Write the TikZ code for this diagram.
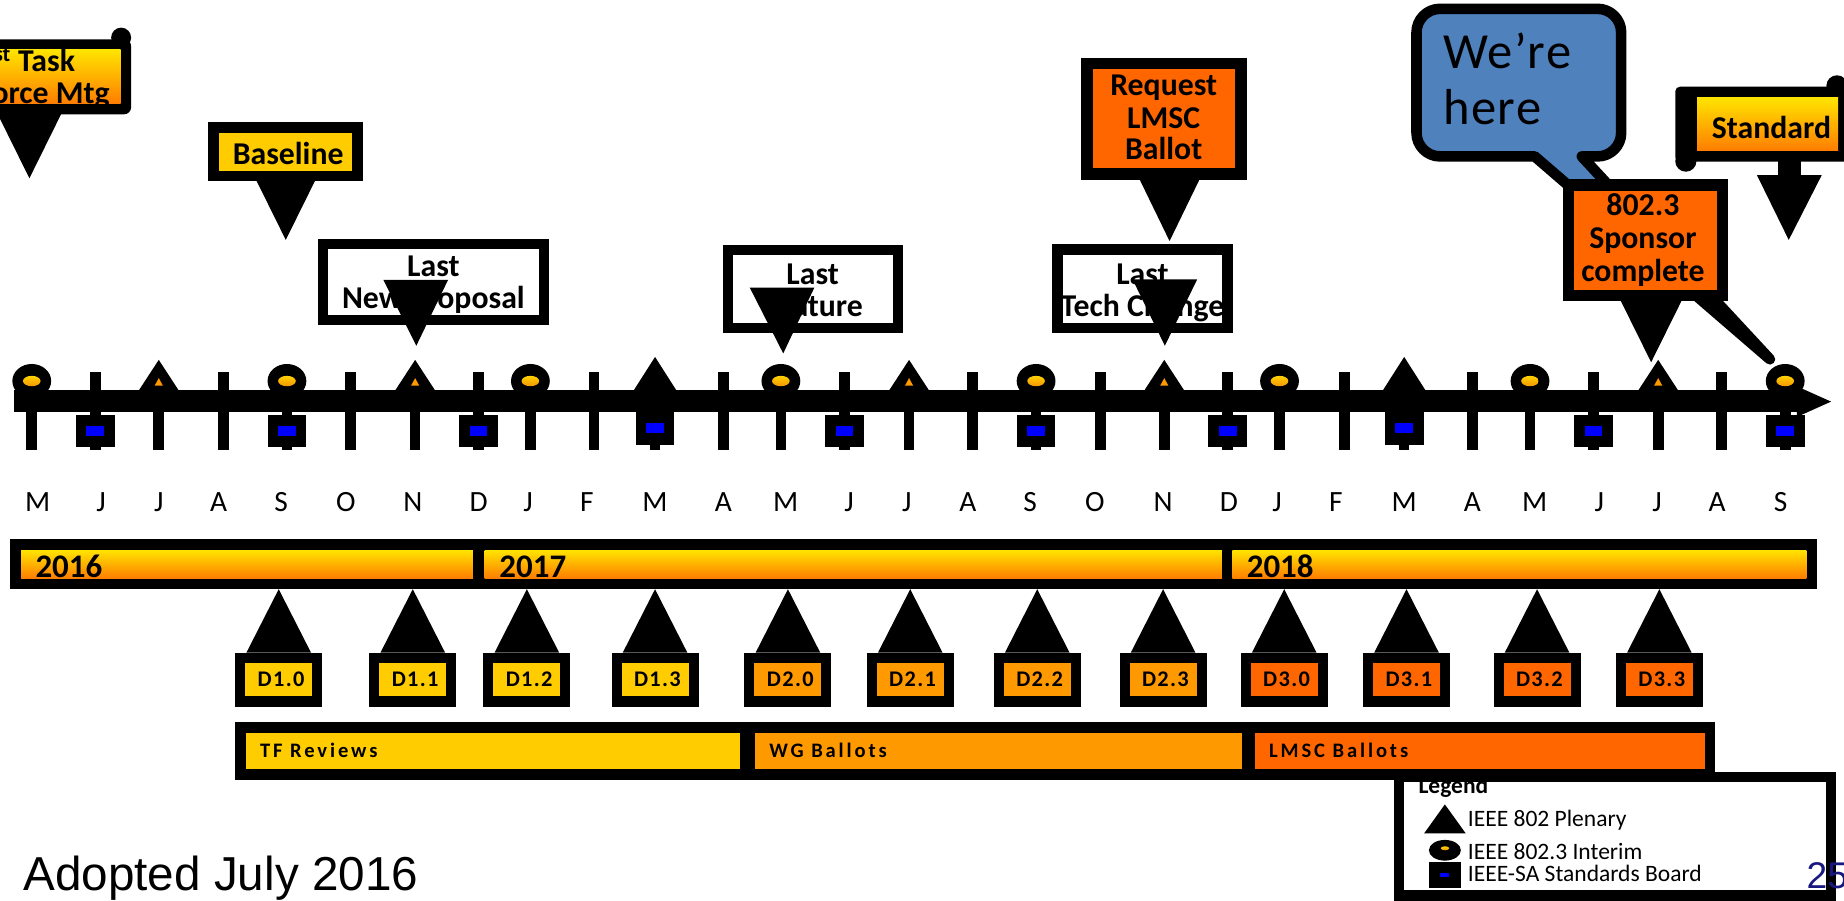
\documentclass[tikz,border=0pt]{standalone}
\usepackage{fontspec}
\setmainfont{Carlito}
\newfontfamily\arialf{Liberation Sans}
\newfontfamily\spacedf[LetterSpace=14]{Carlito}
\newfontfamily\draftf[LetterSpace=6]{Carlito}
\newfontfamily\bubblef[LetterSpace=3]{Carlito}
\definecolor{yel}{HTML}{FFCC00}
\definecolor{org}{HTML}{FF9900}
\definecolor{dorg}{HTML}{FF6600}
\definecolor{bub}{HTML}{4F81BD}
\definecolor{gtop}{RGB}{255,228,0}
\definecolor{gbot}{RGB}{255,125,0}
\definecolor{itop}{RGB}{255,210,0}
\definecolor{ibot}{RGB}{245,150,0}
\definecolor{navy}{RGB}{24,24,128}
\definecolor{sqblue}{RGB}{0,0,255}
\tikzset{
  cw/.style={font=\bfseries\fontsize{27}{29}\selectfont, inner sep=0pt, anchor=base},
  mon/.style={font=\fontsize{25}{27}\selectfont, inner sep=0pt, anchor=base},
  yr/.style={font=\bfseries\fontsize{28}{30}\selectfont, inner sep=0pt, anchor=base west},
  dl/.style={font=\draftf\bfseries\fontsize{19}{20}\selectfont, inner sep=0pt, anchor=base},
  ph/.style={font=\spacedf\bfseries\fontsize{17.5}{19}\selectfont, inner sep=0pt, anchor=base west},
  lg/.style={font=\fontsize{20}{22}\selectfont, inner sep=0pt, anchor=base west},
  grad/.style={top color=gtop, bottom color=gbot},
  igrad/.style={top color=itop, bottom color=ibot},
}
\begin{document}
\begin{tikzpicture}[x=1pt,y=-1pt]
\useasboundingbox (0,0) rectangle (1568,766);
\clip (0,0) rectangle (1568,766);
\fill[white] (0,0) rectangle (1568,766);

% ---------- timeline axis ----------
\fill (12,332) rectangle (1532,350.5);
\fill (1528,328.5) -- (1557,341.5) -- (1528,354.5) -- cycle;
\foreach \x in {27,81,135,190,244,298,353,407,451,505,557,615,664,718,773,827,881,936,990,1044,1088,1143,1194,1252,1301,1355,1410,1464,1518}
  \fill (\x-4.5,316) rectangle (\x+4.5,383);
% interim meetings
\foreach \x in {27,244,451,664,881,1088,1301,1518}{
  \fill (\x,324) ellipse [x radius=16.5pt, y radius=14.5pt];
  \shade[igrad] (\x,324) ellipse [x radius=7.5pt, y radius=4.4pt];
}
% plenary (small)
\foreach \x in {135,353,773,990,1410}{
  \fill (\x-17.3,332.5) -- (\x,306) -- (\x+17.3,332.5) -- cycle;
  \fill[org] (\x-3.5,328) -- (\x,321.5) -- (\x+3.5,328) -- cycle;
}
% plenary (big)
\foreach \x in {557,1194}{
  \fill (\x-18.5,332.5) -- (\x,303.5) -- (\x+18.5,332.5) -- cycle;
  \fill (\x-16.5,350.5) rectangle (\x+16.5,378.5);
  \fill[sqblue] (\x-7.5,360) rectangle (\x+7.5,368.5);
}
% standards board
\foreach \x in {81,244,407,718,881,1044,1355,1518}{
  \fill (\x-16.5,352.5) rectangle (\x+16.5,380.5);
  \fill[sqblue] (\x-7.5,362.3) rectangle (\x+7.5,370.7);
}
% month labels
\foreach \x/\m [count=\i] in {32/M,86/J,135/J,186/A,239/S,294/O,351/N,407/D,449/J,499/F,557/M,615/A,668/M,722/J,771/J,823/A,876/S,931/O,989/N,1045/D,1086/J,1136/F,1194/M,1252/A,1305/M,1360/J,1409/J,1460/A,1514/S}
  \node[mon] (m\i) at (\x,435) {\m};

% ---------- year bar ----------
\fill (8.3,458.3) rectangle (1545,501);
\shade[grad] (18,467.7) rectangle (402,491.8);
\shade[grad] (412,467.7) rectangle (1039,491.8);
\shade[grad] (1048,467.7) rectangle (1536,491.8);
\node[yr] (y16) at (30,491) {2016};
\node[yr] (y17) at (424.5,491) {2017};
\node[yr] (y18) at (1060,491) {2018};

% ---------- drafts ----------
\foreach \x/\t/\c [count=\i] in {237/D1.0/yel,351/D1.1/yel,448/D1.2/yel,557/D1.3/yel,670/D2.0/org,774/D2.1/org,882/D2.2/org,989/D2.3/org,1092/D3.0/dorg,1196/D3.1/dorg,1307/D3.2/dorg,1411/D3.3/dorg}{
  \fill (\x,501) -- (\x+27.5,555) -- (\x-27.5,555) -- cycle;
  \fill (\x-37,555) rectangle (\x+37,601);
  \fill[\c] (\x-28.5,564) rectangle (\x+28.5,591.5);
  \node[dl] (d\i) at (\x+2,584) {\t};
}

% ---------- phases ----------
\fill (200,613.7) rectangle (1458,663);
\fill[yel] (209.5,623.5) rectangle (629,654);
\fill[org] (642,623.5) rectangle (1056,654);
\fill[dorg] (1067,623.5) rectangle (1450,654);
\node[ph] (tf) at (221,644) {TF Reviews};
\node[ph] (wg) at (654,644) {WG Ballots};
\node[ph] (lmsc) at (1079,644) {LMSC Ballots};

% ---------- 1st Task Force Mtg ----------
\fill[rounded corners=6pt] (-20,33.4) rectangle (111.5,97.2);
\fill (103,32) circle (8.5pt);
\shade[grad] (-20,42.5) rectangle (102.6,88);
\begin{scope}
  \clip (-20,42.5) rectangle (102.6,88);
  \node[cw, anchor=base east] (tf1) at (64,61) {1\textsuperscript{st} Task};
  \node[cw, anchor=base east] (tf2) at (93.5,88) {Force Mtg};
\end{scope}
\fill (-2,97) -- (52,97) -- (25,151.6) -- cycle;

% ---------- Baseline ----------
\fill (177,104) rectangle (309,154);
\fill[yel] (186,113) rectangle (299,145);
\node[cw] (bl) at (245,140) {Baseline};
\fill (218,153.5) -- (268,153.5) -- (243,204) -- cycle;

% ---------- Last New Proposal ----------
\fill (270,203) rectangle (467,276);
\fill[white] (279,211.5) rectangle (458,267.5);
\node[cw] (np1) at (368.5,235) {Last};
\node[cw] (np2) at (368.5,262) {New Proposal};
\fill (326,238) -- (381,238) -- (354,294) -- cycle;

% ---------- Last Feature ----------
\fill (614.5,208) rectangle (768,283.5);
\fill[white] (623.5,217) rectangle (759,274.5);
\node[cw] (lf1) at (691,242) {Last};
\node[cw] (lf2) at (691,269) {Feature};
\fill (637.5,244.5) -- (692.5,244.5) -- (666,300.5) -- cycle;

% ---------- Last Tech Change ----------
\fill (894.5,207.5) rectangle (1048.5,283.5);
\fill[white] (903.5,216.5) rectangle (1039.5,274.5);
\node[cw] (tc1) at (971.5,242) {Last};
\node[cw] (tc2) at (971.5,269) {Tech Change};
\fill (963,237.5) -- (1018,237.5) -- (990.5,294) -- cycle;

% ---------- Request LMSC Ballot ----------
\fill (919,49) rectangle (1060,153);
\fill[dorg] (929,58.5) rectangle (1050,143);
\node[cw] (rq1) at (989.5,81) {Request};
\node[cw] (rq2) at (989.5,109) {LMSC};
\node[cw] (rq3) at (989.5,136) {Ballot};
\fill (969,152.5) -- (1020,152.5) -- (994.5,205) -- cycle;

% ---------- We're here ----------
\draw[line width=9pt, fill=bub, line join=round]
  (1224.5,7.5) -- (1358.5,7.5) .. controls (1369.5,7.5) and (1378.5,16.5) .. (1378.5,27.5)
  -- (1378.5,113) .. controls (1378.5,124) and (1369.5,133) .. (1358.5,133)
  -- (1345,133) -- (1505,305.5) -- (1305,133)
  -- (1224.5,133) .. controls (1213.5,133) and (1204.5,124) .. (1204.5,113)
  -- (1204.5,27.5) .. controls (1204.5,16.5) and (1213.5,7.5) .. (1224.5,7.5) -- cycle;
\node[anchor=base west, inner sep=0pt, font=\bubblef\fontsize{43}{45}\selectfont] (wh1) at (1227,58) {We’re};
\node[anchor=base west, inner sep=0pt, font=\bubblef\fontsize{43}{45}\selectfont] (wh2) at (1227,106) {here};

% ---------- 802.3 Sponsor complete ----------
\fill (1329,152) rectangle (1469,256);
\fill[dorg] (1338,162) rectangle (1460,247);
\node[cw] (sp1) at (1397,183) {802.3};
\node[cw] (sp2) at (1397,211) {Sponsor};
\node[cw] (sp3) at (1397,239.5) {complete};
\fill (1378,255.5) -- (1430,255.5) -- (1404,308) -- cycle;

% ---------- Standard ----------
\fill[rounded corners=4pt] (1424.5,73.7) rectangle (1590,137.5);
\fill (1433.5,137) circle (9pt);
\fill (1562,73) circle (9pt);
\shade[grad] (1443,83) rectangle (1563,128);
\node[cw, anchor=base west] (std) at (1455.5,117.6) {Standard};
\fill (1512,136) rectangle (1531,150);
\fill (1494,149) -- (1549,149) -- (1521,204) -- cycle;

% ---------- legend ----------
\fill[white] (1189.5,660.5) rectangle (1557,761.5);
\node[lg, font=\bfseries\fontsize{20}{22}\selectfont] (leg) at (1206,675) {Legend};
\draw[line width=8.7pt] (1189.5,660.5) rectangle (1557,761.5);
\fill (1211,708.6) -- (1246.3,708.6) -- (1228.6,684) -- cycle;
\node[lg] (l1) at (1248,703) {IEEE 802 Plenary};
\fill (1228.6,723) ellipse [x radius=13.6pt, y radius=8.8pt];
\shade[igrad] (1228.7,721.3) ellipse [x radius=3.6pt, y radius=1.7pt];
\node[lg] (l2) at (1248,731) {IEEE 802.3 Interim};
\fill (1215,732.7) rectangle (1242,754.8);
\fill[sqblue] (1224.5,742.4) rectangle (1232.4,745.7);
\node[lg] (l3) at (1248,749.7) {IEEE-SA Standards Board};

% ---------- footer ----------
\node[anchor=base west, inner sep=0pt, font=\arialf\fontsize{40.5}{43}\selectfont] (adopt) at (19.8,756.8) {Adopted July 2016};
\node[anchor=base west, inner sep=0pt, text=navy, font=\arialf\fontsize{31.6}{34}\selectfont] (pg) at (1536,755.3) {25};
\end{tikzpicture}
\end{document}
